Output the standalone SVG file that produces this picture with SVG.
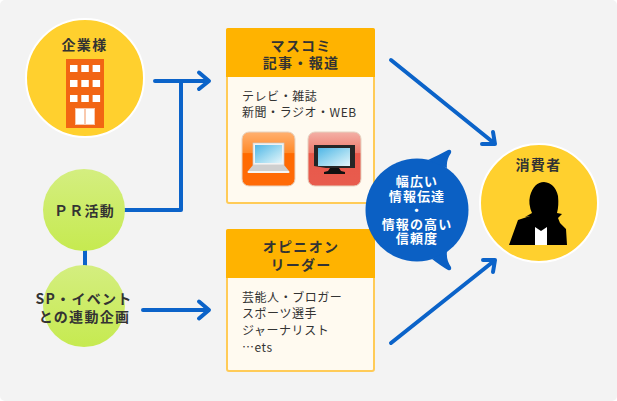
<svg xmlns="http://www.w3.org/2000/svg" xml:lang="ja" lang="ja" width="617" height="401" viewBox="0 0 617 401">
<style>
text{font-family:"Noto Sans CJK JP","Noto Sans",sans-serif}
.h{font-size:14px;font-weight:700;fill:#333;text-anchor:middle;letter-spacing:1.3px}
.b{font-size:12px;fill:#333;letter-spacing:.55px}
.w{font-size:13px;font-weight:700;fill:#fff;text-anchor:middle;letter-spacing:1.1px}
.c{fill:none;stroke:#0b63c9;stroke-width:4;stroke-linecap:round;stroke-linejoin:round}
.win{fill:#fff}
</style>
<defs>
<linearGradient id="g" x1="0" y1="0" x2="0" y2="1"><stop offset="0" stop-color="#d4ee80"/><stop offset="1" stop-color="#c6ea50"/></linearGradient>
<linearGradient id="o" x1="0" y1="0" x2="0" y2="1"><stop offset="0" stop-color="#ffb070"/><stop offset=".38" stop-color="#ff8a2a"/><stop offset=".4" stop-color="#ff6a00"/><stop offset="1" stop-color="#ff6a08"/></linearGradient>
<linearGradient id="r" x1="0" y1="0" x2="0" y2="1"><stop offset="0" stop-color="#f3b0a6"/><stop offset=".38" stop-color="#ee7a6c"/><stop offset=".4" stop-color="#e8584a"/><stop offset="1" stop-color="#e85c4e"/></linearGradient>
<linearGradient id="s" x1="0" y1="0" x2="1" y2="1"><stop offset="0" stop-color="#4fb6e6"/><stop offset=".6" stop-color="#a9def2"/><stop offset="1" stop-color="#e4f5fb"/></linearGradient>
</defs>
<rect x="0" y="0" width="617" height="401" rx="5" fill="#f3f3f3"/>

<g id="connectors">
<path class="c" d="M125 210H181V81"/>
<path class="c" d="M155 81H208M199 72.500L209 81L199 89"/>
<path class="c" d="M85 250V266"/>
<path class="c" d="M143 310H208M199 301.500L209 310L199 318.500"/>
<path class="c" d="M391 60L494 143M482 144H495L493 132"/>
<path class="c" d="M391 343L494 261M483 260H495L493 272"/>
</g>

<g id="node-company">
<circle cx="85" cy="78" r="59" fill="#ffd02e" stroke="#fff" stroke-width="2"/>
<text class="h" x="84.500" y="50">企業様</text>
<rect x="66" y="59" width="38" height="69" fill="#f26513"/>
<rect class="win" x="70" y="65" width="7.500" height="7"/><rect class="win" x="81.300" y="65" width="7.500" height="7"/><rect class="win" x="92.600" y="65" width="7.500" height="7"/>
<rect class="win" x="70" y="80" width="7.500" height="7"/><rect class="win" x="81.300" y="80" width="7.500" height="7"/><rect class="win" x="92.600" y="80" width="7.500" height="7"/>
<rect class="win" x="70" y="95" width="7.500" height="7"/><rect class="win" x="81.300" y="95" width="7.500" height="7"/><rect class="win" x="92.600" y="95" width="7.500" height="7"/>
<rect x="75" y="108" width="20" height="17" fill="#f9c9ae"/>
<rect x="76" y="109" width="8" height="15" fill="#fff"/><rect x="86" y="109" width="8" height="15" fill="#fff"/>
</g>

<g id="node-pr">
<circle cx="84" cy="210" r="41" fill="url(#g)"/>
<text class="h" x="84.500" y="216">ＰＲ活動</text>
</g>

<g id="node-sp">
<circle cx="84" cy="306" r="41" fill="url(#g)"/>
<text class="h" x="84" y="304">SP・イベント</text>
<text class="h" x="84.500" y="322">との連動企画</text>
</g>

<g id="node-masscomi">
<rect x="227" y="29" width="147" height="174" rx="2" fill="#fffaf0" stroke="#ffcb57" stroke-width="2"/>
<path d="M226 30a2 2 0 0 1 2-2H373a2 2 0 0 1 2 2V77H226Z" fill="#ffb300"/>
<text class="h" x="301" y="51">マスコミ</text>
<text class="h" x="301" y="68">記事・報道</text>
<text class="b" x="242" y="101">テレビ・雑誌</text>
<text class="b" x="242" y="117">新聞・ラジオ・WEB</text>
<g id="icon-laptop">
<rect x="242" y="132" width="53" height="54" rx="7" fill="url(#o)" stroke="#e6d2c0" stroke-width="1"/>
<rect x="253" y="143" width="31" height="22" fill="#f2f2f2" stroke="#c9c9c9" stroke-width=".7"/>
<rect x="255" y="145" width="27" height="18" fill="url(#s)"/>
<path d="M253 165H284L289 171H248Z" fill="#cfcfcf"/>
<rect x="247.500" y="171" width="42" height="2" rx="1" fill="#f5f5f5"/>
</g>
<g id="icon-tv">
<rect x="308" y="132" width="53" height="54" rx="7" fill="url(#r)" stroke="#e6d2c0" stroke-width="1"/>
<path d="M314 145H355V168H326L314 166Z" fill="#262626"/>
<rect x="318" y="148" width="32" height="18" fill="url(#s)"/>
<path d="M330 168H339L341 171L345 172V174H324V172L328 171Z" fill="#111"/>
</g>
</g>

<g id="node-opinion">
<rect x="227" y="230" width="147" height="141" rx="2" fill="#fffaf0" stroke="#ffcb57" stroke-width="2"/>
<path d="M226 231a2 2 0 0 1 2-2H373a2 2 0 0 1 2 2V278H226Z" fill="#ffb300"/>
<text class="h" x="301" y="252">オピニオン</text>
<text class="h" x="301" y="270">リーダー</text>
<text class="b" x="242" y="302">芸能人・ブロガー</text>
<text class="b" x="242" y="318">スポーツ選手</text>
<text class="b" x="242" y="335">ジャーナリスト</text>
<text class="b" x="242" y="352">…ets</text>
</g>

<g id="node-bubble">
<circle cx="417" cy="210" r="51.500" fill="#0b60c4"/>
<path d="M428 160Q439 155 448 150Q452 149 451 153Q446 160 447 168ZM432 259Q441 266 448 270Q452 271 451 267Q446 260 447 251Z" fill="#0b60c4"/>
<text class="w" x="417" y="186">幅広い</text>
<text class="w" x="417" y="201">情報伝達</text>
<text class="w" x="417" y="215">・</text>
<text class="w" x="417" y="229">情報の高い</text>
<text class="w" x="417" y="243">信頼度</text>
</g>

<g id="node-consumer">
<circle cx="539" cy="203" r="59" fill="#ffd02e" stroke="#fff" stroke-width="2"/>
<text class="h" x="538.500" y="170">消費者</text>
<path d="M509 245L518 220L530 216L525 217L532 213Q528 204 530 196Q534 182 544 182Q555 183 558 196Q559 206 557 213L562 214L558 218L560 223L566 229L567 245Z" fill="#000"/>
<path d="M535 227L541 231L547 227V245H535Z" fill="#fff"/>
</g>
</svg>
